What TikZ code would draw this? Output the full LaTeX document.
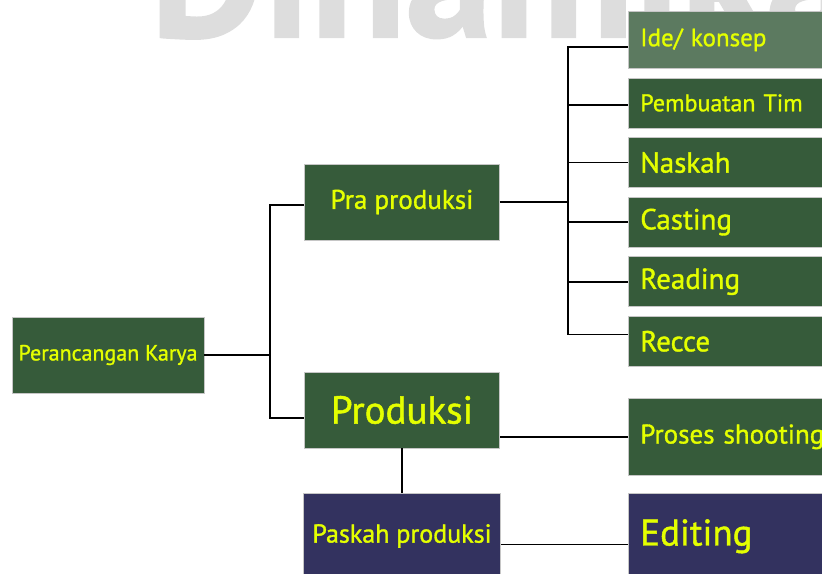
\documentclass[tikz,border=0pt]{standalone}
\usepackage{fontspec}
\setmainfont{PT Sans}[FakeBold=1.2]
\usetikzlibrary{positioning}
\definecolor{boxgreen}{RGB}{54,91,58}
\definecolor{palegreen}{RGB}{92,122,96}
\definecolor{boxnavy}{RGB}{51,50,95}
\definecolor{labelyellow}{RGB}{228,255,0}
\definecolor{markgray}{RGB}{221,221,221}

\begin{document}
\begin{tikzpicture}[x=1pt, y=-1pt, node distance = 9pt,
                    main/.style = {fill=boxgreen, draw=gray!45, line width=0.6pt, text=labelyellow, align=center},
                    leaf/.style = {main, minimum width=210pt, minimum height=50pt, text width=186pt, align=left, inner xsep=12pt},
                    link/.style = {line width=1.6pt, black}]
\useasboundingbox (0,0) rectangle (822,573);
\clip (0,0) rectangle (822,573);
\node[anchor=base west, text=markgray, font=\bfseries\fontsize{175}{175}\selectfont, inner sep=0pt] (mark) at (150,37) {Dinamika};
\node[main, minimum width=192pt, minimum height=76pt, font=\fontsize{22}{24}\selectfont] (karya) at (108,355) {Perancangan Karya};
\node[main, minimum width=195pt, minimum height=76pt, font=\fontsize{27}{29}\selectfont] (pra) at (402,202) {Pra produksi};
\node[main, minimum width=195pt, minimum height=76pt, font=\fontsize{39}{41}\selectfont] (prod) at (402,410) {Produksi};
\node[main, fill=boxnavy, minimum width=197pt, minimum height=86pt, font=\fontsize{26}{28}\selectfont] (paskah) at (402,536) {Paskah produksi};
\begin{scope}[node distance=9pt]
\node[leaf, anchor=north west, fill=palegreen, minimum height=57pt, font=\fontsize{25}{27}\selectfont] (ide) at (628,11) {Ide/ konsep};
\node[leaf, below=of ide, font=\fontsize{24}{26}\selectfont] (tim) {Pembuatan Tim};
\node[leaf, below=of tim, font=\fontsize{29}{31}\selectfont] (naskah) {Naskah};
\node[leaf, below=of naskah, font=\fontsize{29}{31}\selectfont] (casting) {Casting};
\node[leaf, below=of casting, font=\fontsize{29}{31}\selectfont] (reading) {Reading};
\node[leaf, below=of reading, font=\fontsize{29}{31}\selectfont] (recce) {Recce};
\end{scope}
\node[leaf, anchor=north west, minimum height=77pt, font=\fontsize{27}{29}\selectfont] (shooting) at (628,398) {Proses shooting};
\node[leaf, anchor=north west, fill=boxnavy, minimum height=86pt, font=\fontsize{37}{39}\selectfont] (editing) at (628,493) {Editing};
\coordinate (split1) at (270,355);
\coordinate (split2) at (568,202);
\draw[link] (karya.east) -- (split1);
\draw[link] (split1) |- ([yshift=-3pt]pra.west);
\draw[link] (split1) |- ([yshift=-8pt]prod.west);
\draw[link] (pra.east) -- (split2);
\foreach \n/\dy in {ide/-7, tim/-2, naskah/0, casting/0, reading/0, recce/7}
  \draw[link] (split2) |- ([yshift=\dy pt]\n.west);
\draw[link] (prod.south) -- (paskah.north);
\draw[link] (shooting.west) -- (shooting.west -| prod.east);
\draw[link] ([yshift=-8pt]editing.west) -- ([yshift=-8pt]editing.west -| paskah.east);
\end{tikzpicture}
\end{document}
